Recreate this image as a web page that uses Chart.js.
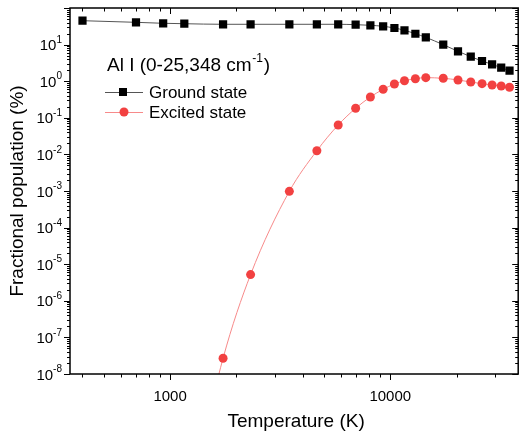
<!DOCTYPE html>
<html lang="en">
<head>
<meta charset="utf-8" />
<title>Al I fractional population</title>
<script src="https://cdn.jsdelivr.net/npm/chart.js@4.4.0/dist/chart.umd.min.js"></script>
<style>
  body { margin: 0; background: #fff; }
</style>
</head>
<body>
<canvas id="popChart" width="524" height="439"></canvas>
<script>
// temperatures in K
const temperatures = [400, 700, 930, 1160, 1740, 2320, 3480, 4640, 5800, 6960, 8120, 9280,
  10440, 11600, 13000, 14500, 17400, 20300, 23200, 26100, 29000, 31900, 34800];
// fractional population in %
const groundState = [45.0, 40.6, 38.2, 37.2, 35.9, 35.9, 35.9, 35.9, 35.9, 35.0, 33.7, 31.6,
  28.4, 24.6, 19.8, 15.8, 9.94, 6.56, 4.67, 3.56, 2.89, 2.34, 1.94];
const excitedState = [null, null, null, 7.6e-13, 2.7e-8, 5.2e-6, 9.8e-4, 0.0126, 0.0636, 0.182, 0.370, 0.601,
  0.839, 1.03, 1.17, 1.25, 1.20, 1.08, 0.95, 0.855, 0.787, 0.739, 0.681];

const xMajorTicks = [1000, 10000];
const xMinorTicks = [400, 500, 600, 700, 800, 900, 2000, 3000, 4000, 5000, 6000, 7000, 8000, 9000, 20000, 30000];
const yLabelExponents = [-8, -7, -6, -5, -4, -3, -2, -1, 0, 1];

const seriesNames = ["Ground state", "Excited state"];
const legendTitle = "Al I (0-25,348 cm";
const xTitle = "Temperature (K)";
const yTitle = "Fractional population (%)";

const FONT = "'Liberation Sans', Arial, sans-serif";

let toPoints = (vals) => temperatures.map((t, i) => ({ x: t, y: vals[i] }));

const originAxes = {
  id: "originAxes",
  afterDatasetsDraw(chart) {
    const { ctx, chartArea: a, scales } = chart;
    const xs = scales.x, ys = scales.y;
    ctx.save();
    ctx.strokeStyle = "#000";
    ctx.fillStyle = "#000";

    // ticks, outward on bottom/left, inward on top/right
    ctx.lineWidth = 1;
    ctx.beginPath();
    let xTick = (v, len) => {
      let px = Math.round(xs.getPixelForValue(v)) + 0.5;
      ctx.moveTo(px, a.bottom); ctx.lineTo(px, a.bottom + len);
      ctx.moveTo(px, a.top); ctx.lineTo(px, a.top + len);
    };
    xMajorTicks.forEach((v) => xTick(v, 6));
    xMinorTicks.forEach((v) => xTick(v, 3.5));
    let yTick = (v, len) => {
      let py = Math.round(ys.getPixelForValue(v)) + 0.5;
      ctx.moveTo(a.left - len, py); ctx.lineTo(a.left, py);
      ctx.moveTo(a.right, py); ctx.lineTo(a.right - len, py);
    };
    for (let e = -8; e <= 2; e++) {
      yTick(Math.pow(10, e), 6);
      if (e < 2) for (let m = 2; m <= 9; m++) yTick(m * Math.pow(10, e), 3);
    }
    ctx.stroke();

    // frame
    ctx.lineWidth = 1.5;
    ctx.strokeRect(a.left, a.top, a.right - a.left, a.bottom - a.top);

    // x tick labels
    ctx.font = "15px " + FONT;
    ctx.textAlign = "center";
    ctx.textBaseline = "middle";
    xMajorTicks.forEach((v) => ctx.fillText(String(v), xs.getPixelForValue(v), 397));

    // y tick labels 10^n
    yLabelExponents.forEach((e) => {
      let py = ys.getPixelForValue(Math.pow(10, e));
      let expStr = e < 0 ? "-" + Math.abs(e) : String(e);
      ctx.font = "15px " + FONT;
      let w10 = ctx.measureText("10").width;
      ctx.font = "10px " + FONT;
      let wExp = ctx.measureText(expStr).width;
      let x0 = 62 - w10 - wExp;
      ctx.textAlign = "left";
      ctx.font = "15px " + FONT;
      ctx.fillText("10", x0, py + 1.5);
      ctx.font = "10px " + FONT;
      ctx.fillText(expStr, x0 + w10, py - 4.5);
    });

    // axis titles
    ctx.font = "19px " + FONT;
    ctx.textAlign = "center";
    ctx.fillText(xTitle, (a.left + a.right) / 2 + 2, 422);
    ctx.save();
    ctx.translate(18, (a.top + a.bottom) / 2);
    ctx.rotate(-Math.PI / 2);
    ctx.fillText(yTitle, 0, 0);
    ctx.restore();

    // legend
    ctx.textAlign = "left";
    ctx.font = "19px " + FONT;
    ctx.fillText(legendTitle, 107, 66);
    let wt = ctx.measureText(legendTitle).width;
    ctx.font = "12px " + FONT;
    ctx.fillText("-1", 107 + wt + 0.5, 59);
    let ws = ctx.measureText("-1").width;
    ctx.font = "19px " + FONT;
    ctx.fillText(")", 107 + wt + ws + 1.5, 66);

    let legendRow = (y, ds, label) => {
      ctx.strokeStyle = ds.borderColor;
      ctx.lineWidth = 1;
      ctx.beginPath();
      ctx.moveTo(105, y + 0.5); ctx.lineTo(143, y + 0.5);
      ctx.stroke();
      ctx.fillStyle = ds.pointBackgroundColor;
      if (ds.pointStyle === "rect") {
        ctx.fillRect(119, y - 4, 8, 8);
      } else {
        ctx.beginPath();
        ctx.arc(124, y, 4.5, 0, Math.PI * 2);
        ctx.fill();
      }
      ctx.fillStyle = "#000";
      ctx.font = "17px " + FONT;
      ctx.fillText(label, 149, y + 1);
    };
    legendRow(92, chart.data.datasets[0], seriesNames[0]);
    legendRow(112, chart.data.datasets[1], seriesNames[1]);
    ctx.restore();
  },
};

new Chart(document.getElementById("popChart"), {
  type: "line",
  data: {
    datasets: [
      {
        label: seriesNames[0],
        data: toPoints(groundState),
        borderColor: "#555555",
        borderWidth: 1,
        pointStyle: "rect",
        pointRadius: 5.8,
        pointBackgroundColor: "#000000",
        pointBorderColor: "#000000",
        pointBorderWidth: 0,
        cubicInterpolationMode: "monotone",
      },
      {
        label: seriesNames[1],
        data: toPoints(excitedState),
        borderColor: "#f78a8a",
        borderWidth: 1,
        pointStyle: "circle",
        pointRadius: 4.5,
        pointBackgroundColor: "#f24141",
        pointBorderColor: "#f24141",
        pointBorderWidth: 0,
        cubicInterpolationMode: "monotone",
      },
    ],
  },
  options: {
    responsive: false,
    animation: false,
    layout: { padding: { left: 0, top: 8, right: 2, bottom: 0 } },
    plugins: { legend: { display: false }, tooltip: { enabled: false } },
    scales: {
      x: {
        type: "logarithmic",
        min: 351,
        max: 38100,
        grid: { display: false },
        border: { display: false },
        ticks: { display: false },
        afterFit: (scale) => { scale.height = 65; },
      },
      y: {
        type: "logarithmic",
        min: 1e-8,
        max: 100,
        grid: { display: false },
        border: { display: false },
        ticks: { display: false },
        afterFit: (scale) => { scale.width = 70; },
      },
    },
  },
  plugins: [originAxes],
});
</script>
</body>
</html>
